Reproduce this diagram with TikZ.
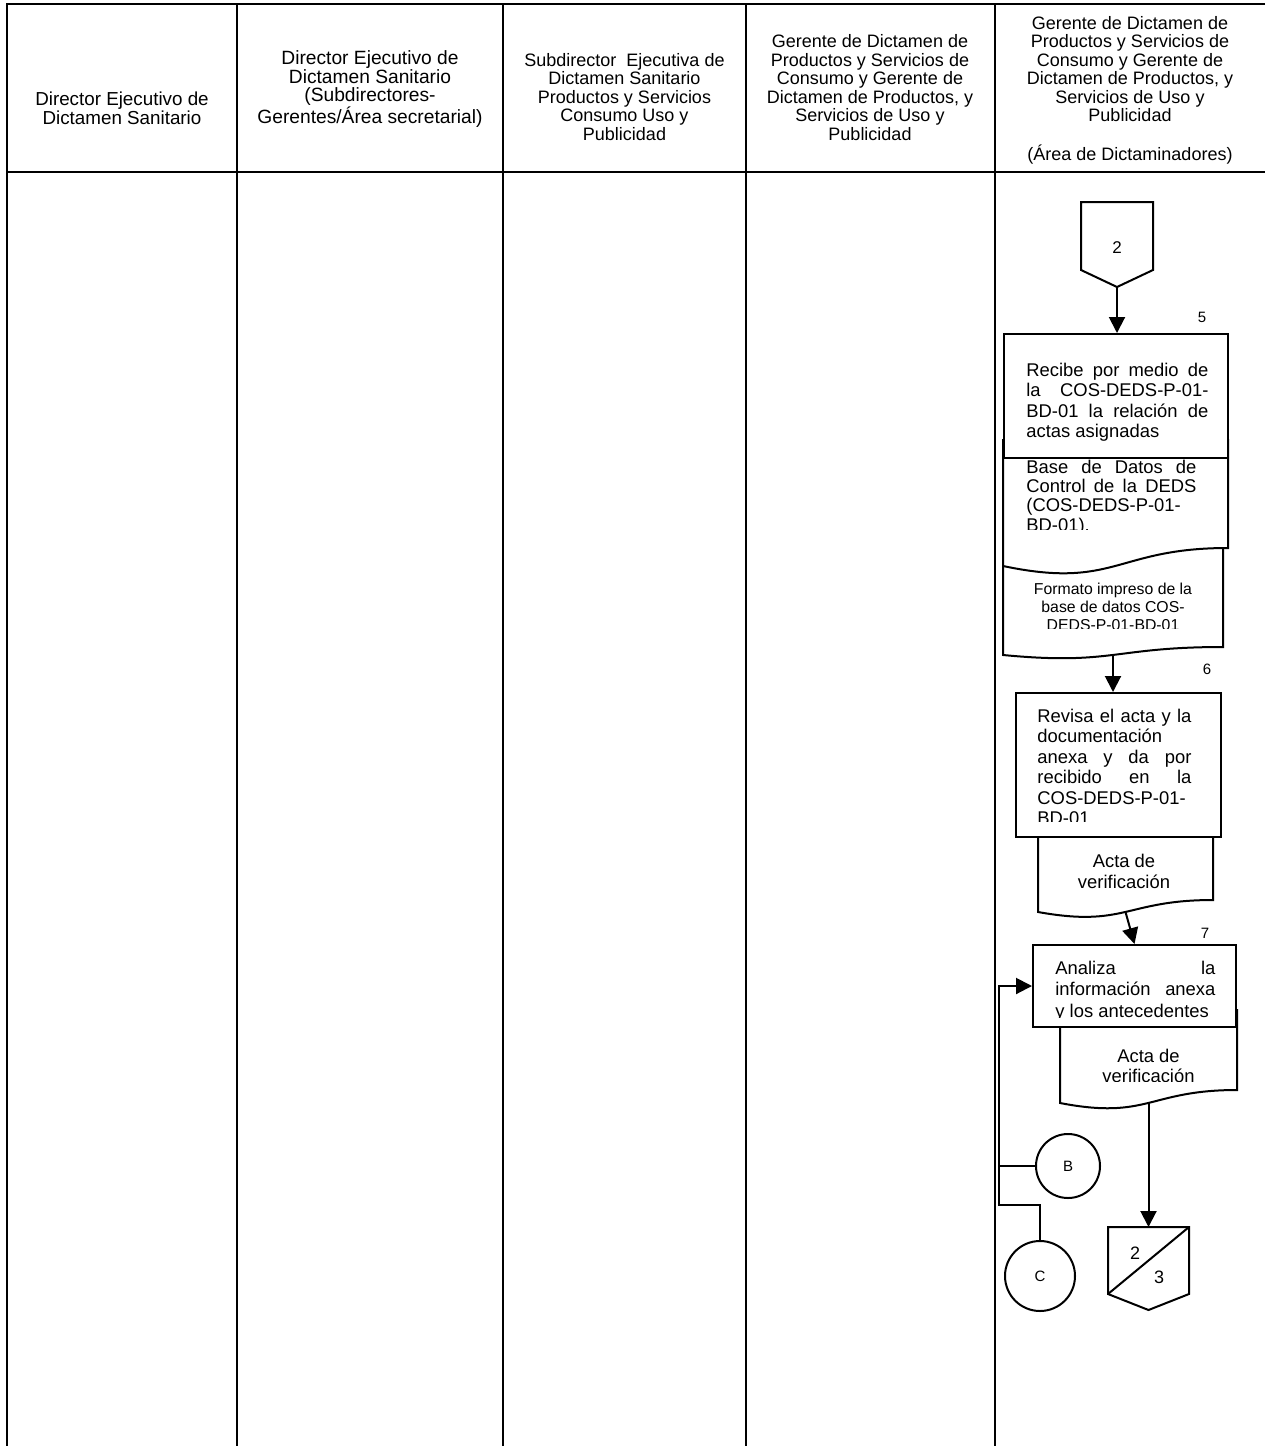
\documentclass[tikz,border=0pt]{standalone}
\usepackage{fontspec}
\setmainfont{Liberation Sans}
\usetikzlibrary{arrows.meta}
\newcommand\jline[2]{\makebox[#1][s]{#2}}
\begin{document}
\begin{tikzpicture}[x=0.5pt,y=-0.5pt,
  tbl/.style={line width=1.3pt},
  shp/.style={line width=1pt},
  hdr/.style={align=center,font=\fontsize{9}{9.25}\selectfont,inner sep=0pt},
  txt/.style={align=left,font=\fontsize{9.2}{10.25}\selectfont,inner sep=0pt,anchor=north west},
  ctxt/.style={align=center,font=\fontsize{9.2}{10.5}\selectfont,inner sep=0pt,anchor=north},
  stepbox/.style={draw,shp,fill=white,inner sep=0pt},
  conn/.style={draw,shp,circle,fill=white,inner sep=0pt,font=\fontsize{7.5}{8}\selectfont},
  arr/.style={shp,-{Triangle[length=8pt,width=8pt]}},
  num/.style={font=\fontsize{7.5}{8}\selectfont,inner sep=0pt},
]
\useasboundingbox (0,0) rectangle (1265,1446);
% ---------- table ----------
\draw[tbl] (1265,4) -- (7,4) -- (7,1446);
\draw[tbl] (7,172) -- (1265,172);
\foreach \x in {237,503,746,995} \draw[tbl] (\x,4) -- (\x,1446);
% ---------- headers ----------
\node[hdr,font=\fontsize{9.4}{9.4}\selectfont] (h1) at (122,108) {Director Ejecutivo de\\Dictamen Sanitario};
\node[hdr,font=\fontsize{9.6}{9.1}\selectfont] (h2) at (370,89.5) {Director Ejecutivo de\\Dictamen Sanitario\\(Subdirectores-\\Gerentes/Área secretarial)};
\node[hdr] (h3) at (624.5,97) {Subdirector\ \ Ejecutiva de\\Dictamen Sanitario\\Productos y Servicios\\Consumo Uso y\\Publicidad};
\node[hdr] (h4) at (870,87.5) {Gerente de Dictamen de\\Productos y Servicios de\\Consumo y Gerente de\\Dictamen de Productos, y\\Servicios de Uso y\\Publicidad};
\node[hdr] (h5) at (1130,90) {Gerente de Dictamen de\\Productos y Servicios de\\Consumo y Gerente de\\Dictamen de Productos, y\\Servicios de Uso y\\Publicidad\\[10pt](Área de Dictaminadores)};
% ---------- off-page connector 2 ----------
\draw[shp] (1081,202) -- (1153,202) -- (1153,270) -- (1117,287) -- (1081,270) -- cycle;
\coordinate (op2) at (1117,287);
\node[font=\fontsize{8.5}{9}\selectfont,inner sep=0pt] (op2t) at (1117,248) {2};
% ---------- documents under step 5 ----------
\draw[shp,fill=white] (1003,540) -- (1223,540) -- (1223,647) .. controls (1113,647) and (1113,665.5) .. (1003,655) -- cycle;
\coordinate (d2b) at (1113,655);
\draw[shp,fill=white] (1003,440) -- (1228,440) -- (1228,548) .. controls (1115.5,548) and (1115.5,589.7) .. (1003,566) -- cycle;
\node[stepbox,minimum width=112pt,minimum height=62pt] (b5) at (1116,396) {};
\draw[arr] (op2) -- (op2 |- b5.north);
\node[num] (n5) at (1202,317) {5};
\node[txt] (t5) at (1026,362.5) {\jline{91pt}{Recibe por medio de}\\\jline{91pt}{la COS-DEDS-P-01-}\\\jline{91pt}{BD-01 la relación de}\\actas asignadas};
\begin{scope}
\clip (1003,458) rectangle (1228,529);
\node[txt,font=\fontsize{9.2}{9.65}\selectfont] (t1) at (1026,459.5) {\jline{85pt}{Base de Datos de}\\\jline{85pt}{Control de la DEDS}\\\jline{85pt}{(COS-DEDS-P-01-}\\BD-01).};
\end{scope}
\begin{scope}
\clip (1003,575) rectangle (1223,628);
\node[ctxt,font=\fontsize{7.9}{9}\selectfont] (t2) at (1113,582.5) {Formato impreso de la\\base de datos COS-\\DEDS-P-01-BD-01};
\end{scope}
% ---------- step 6 ----------
\draw[shp,fill=white] (1038,820) -- (1213,820) -- (1213,900) .. controls (1125.5,900) and (1125.5,927.8) .. (1038,912) -- cycle;
\coordinate (d3b) at (1125.5,912);
\node[stepbox,minimum width=102.5pt,minimum height=72pt] (b6) at (1118.5,765) {};
\draw[arr] (d2b) -- (d2b |- b6.north);
\node[num] (n6) at (1207,669) {6};
\begin{scope}
\clip (1016,693) rectangle (1221,821);
\node[txt] (t6) at (1037,708.5) {\jline{77pt}{Revisa el acta y la}\\documentación\\\jline{77pt}{anexa y da por}\\\jline{77pt}{recibido en la}\\COS-DEDS-P-01-\\BD-01};
\end{scope}
\node[ctxt] (t3) at (1124,853.5) {Acta de\\verificación};
% ---------- step 7 ----------
\draw[shp,fill=white] (1060,1010) -- (1237,1010) -- (1237,1090) .. controls (1148.5,1090) and (1148.5,1120.1) .. (1060,1103) -- cycle;
\coordinate (d4b) at (1148.5,1103);
\node[stepbox,minimum width=101.5pt,minimum height=41pt] (b7) at (1134.5,986) {};
\draw[arr] (d3b) -- (b7.north);
\node[num] (n7) at (1205,933) {7};
\begin{scope}
\clip (1033,945) rectangle (1236,1017.5);
\node[txt,font=\fontsize{9.2}{10.75}\selectfont] (t7) at (1055,960.5) {\jline{80pt}{Analiza la}\\\jline{80pt}{información anexa}\\y los antecedentes};
\end{scope}
\begin{scope}
\clip (1060,1027) rectangle (1237,1081);
\node[ctxt,font=\fontsize{9.2}{10}\selectfont] (t4) at (1148.5,1048.5) {Acta de\\verificación};
\end{scope}
% ---------- off-page connector 2/3 ----------
\coordinate (op23) at (1148.5,1227);
\draw[arr] (d4b) -- (op23);
\draw[shp] (1108,1227) -- (1189,1227) -- (1189,1294) -- (1148.5,1310) -- (1108,1294) -- cycle;
\draw[shp] (1108,1294) -- (1189,1227);
\node[font=\fontsize{9}{9}\selectfont,inner sep=0pt] (op23a) at (1135,1253) {2};
\node[font=\fontsize{9}{9}\selectfont,inner sep=0pt] (op23b) at (1159,1277) {3};
% ---------- connectors B and C ----------
\node[conn,minimum size=32pt] (cB) at (1068,1166) {B};
\node[conn,minimum size=35pt] (cC) at (1040,1276) {C};
\coordinate (lp) at (999,1205);
\draw[arr] (cC.north) |- (lp) -- (lp |- b7.west) -- (b7.west);
\draw[shp] (cB.west) -- (cB.west -| lp);
\end{tikzpicture}
\end{document}
